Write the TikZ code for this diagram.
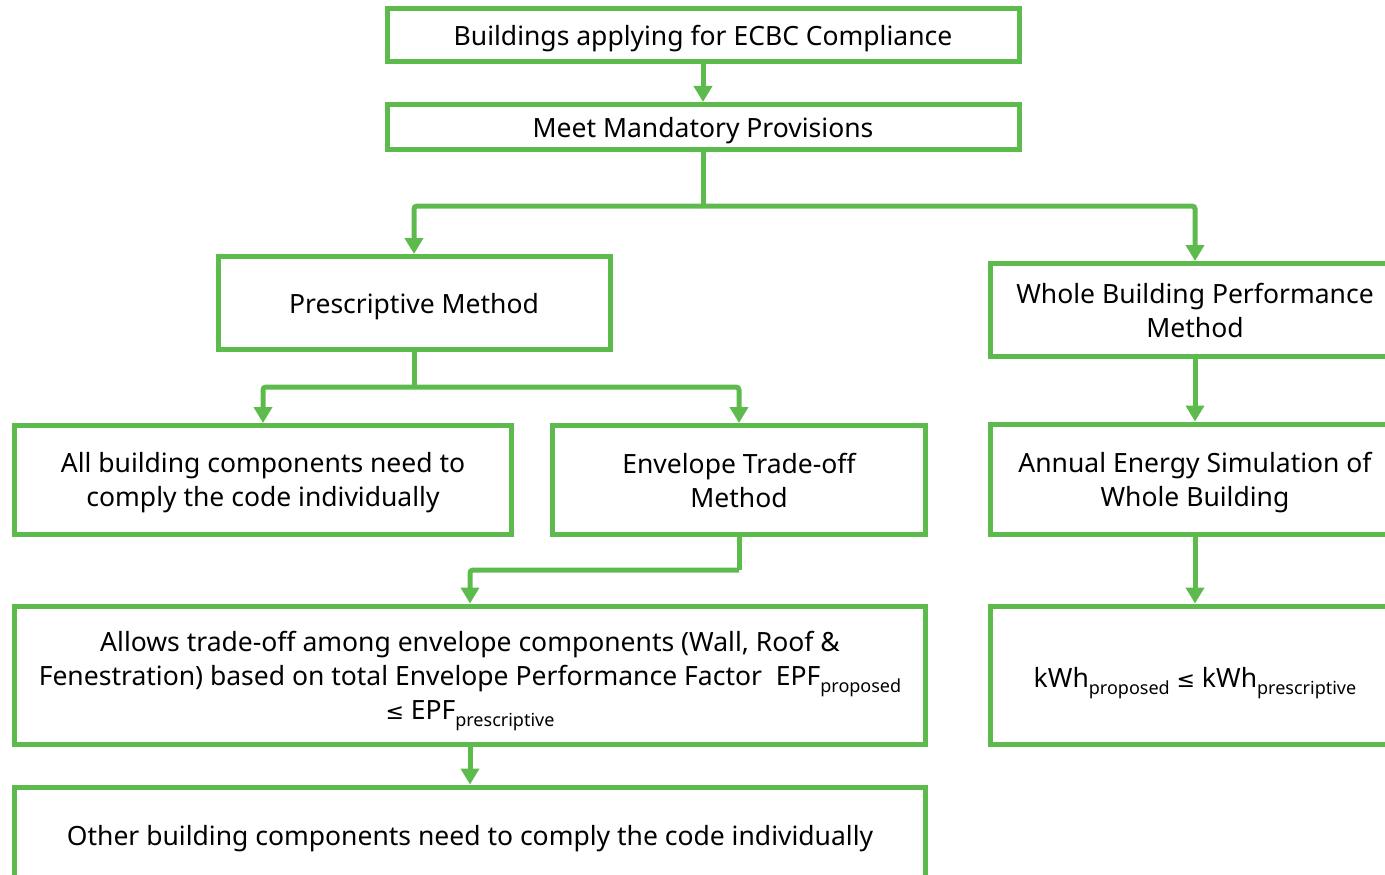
\documentclass[tikz,border=0pt]{standalone}
\usepackage{fontspec}
\setmainfont{Noto Sans}
\newfontfamily\symfont{DejaVu Sans}
\usetikzlibrary{arrows.meta}
\definecolor{grn}{HTML}{5DBB4E}
\newcommand{\sbs}[1]{\raisebox{-6.5pt}{\fontsize{18}{18}\selectfont #1}}
\newcommand{\leqs}{{\symfont\fontsize{22}{22}\selectfont ≤}}
\newcommand{\upby}[1]{\rule{0pt}{#1}}
\tikzset{
  box/.style={draw=grn, line width=5pt, fill=white, align=center, inner sep=0pt,
    font=\fontsize{26.5}{34}\selectfont, text=black},
  conn/.style={draw=grn, line width=5pt, rounded corners=3pt,
    -{Triangle[width=18pt,length=16pt]}},
  plain/.style={draw=grn, line width=5pt}
}
\begin{document}
\begin{tikzpicture}[x=1pt,y=-1pt]
\useasboundingbox (0,0) rectangle (1385,875);
\clip (0,0) rectangle (1385,875);
\node[box, minimum width=632pt, minimum height=53pt] (top) at (703,35) {\upby{28pt}Buildings applying for ECBC Compliance};
\node[box, minimum width=632pt, minimum height=45pt] (mand) at (703,127) {\upby{28pt}Meet Mandatory Provisions};
\node[box, minimum width=392pt, minimum height=93pt] (pres) at (414,303) {\upby{28pt}Prescriptive Method};
\node[box, minimum width=410pt, minimum height=93pt] (whole) at (1195,310) {Whole Building Performance\\Method};
\node[box, minimum width=497pt, minimum height=109pt] (all) at (263,480) {\upby{26pt}All building components need to\\comply the code individually};
\node[box, minimum width=373pt, minimum height=109pt] (env) at (739,480) {Envelope Trade-off\\Method};
\node[box, minimum width=410pt, minimum height=110pt] (ann) at (1195,479) {\upby{28pt}Annual Energy Simulation of\\Whole Building};
\node[box, minimum width=911pt, minimum height=138pt] (allow) at (470,675) {\upby{32pt}Allows trade-off among envelope components (Wall, Roof \&\\Fenestration) based on total Envelope Performance Factor~~EPF\sbs{proposed}\\\leqs{} EPF\sbs{prescriptive}};
\node[box, minimum width=410pt, minimum height=138pt] (kwh) at (1195,675) {\upby{36pt}kWh\sbs{proposed} \leqs{} kWh\sbs{prescriptive}};
\node[box, minimum width=911pt, minimum height=96pt] (other) at (470,835) {\upby{28pt}Other building components need to comply the code individually};
\coordinate (j1) at (703,206);
\coordinate (j2) at (414,387);
\coordinate (j3) at (739,570);
\draw[conn] (top.south) -- (mand.north);
\draw[plain] (mand.south) -- (j1);
\draw[conn] (j1) -| (pres.north);
\draw[conn] (j1) -| (whole.north);
\draw[plain] (pres.south) -- (j2);
\draw[conn] (j2) -| (all.north);
\draw[conn] (j2) -| (env.north);
\draw[plain] (env.south) -- (j3);
\draw[conn] (j3) -| (allow.north);
\draw[conn] (allow.south) -- (other.north);
\draw[conn] (whole.south) -- (ann.north);
\draw[conn] (ann.south) -- (kwh.north);
\end{tikzpicture}
\end{document}
